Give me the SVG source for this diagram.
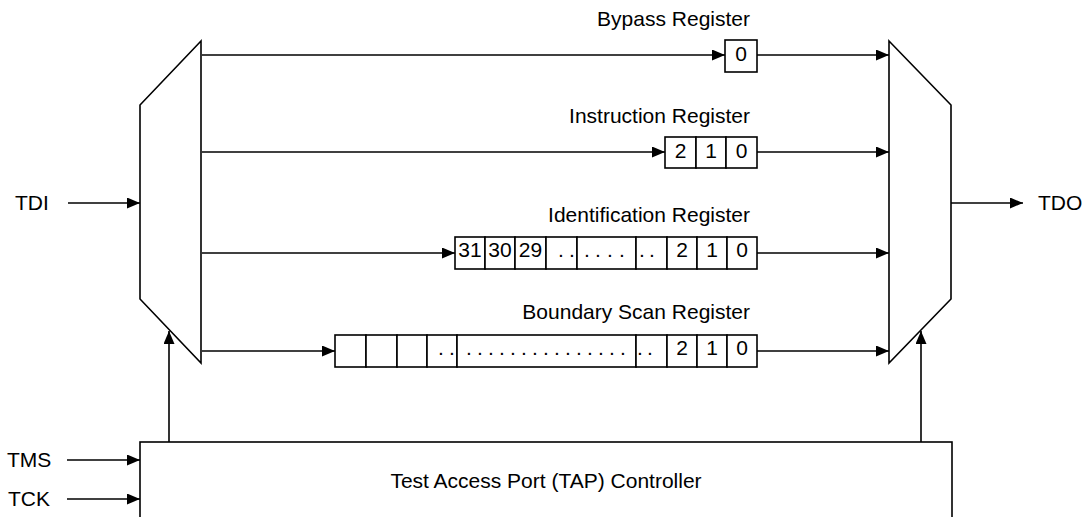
<svg xmlns="http://www.w3.org/2000/svg" width="1087" height="517" viewBox="0 0 1087 517">
<style>
.ln{stroke:#000;stroke-width:1.6;fill:none}
.bx{stroke:#000;stroke-width:1.6;fill:#fff}
.t{font-family:"Liberation Sans",Arial,sans-serif;font-size:21px;fill:#000}
.c{text-anchor:middle}
.e{text-anchor:end}
</style>
<defs>
<marker id="ah" markerUnits="userSpaceOnUse" markerWidth="13" markerHeight="11" refX="13" refY="5.5" orient="auto">
<path d="M0,0 L13,5.5 L0,11 z" fill="#000"/>
</marker>
</defs>
<g id="connectors">
<line class="ln" x1="68" y1="203" x2="140" y2="203" marker-end="url(#ah)"/>
<line class="ln" x1="67" y1="460" x2="140" y2="460" marker-end="url(#ah)"/>
<line class="ln" x1="67" y1="499" x2="140" y2="499" marker-end="url(#ah)"/>
<line class="ln" x1="202" y1="55" x2="725" y2="55" marker-end="url(#ah)"/>
<line class="ln" x1="202" y1="152" x2="665" y2="152" marker-end="url(#ah)"/>
<line class="ln" x1="202" y1="253" x2="455" y2="253" marker-end="url(#ah)"/>
<line class="ln" x1="202" y1="351" x2="335" y2="351" marker-end="url(#ah)"/>
<line class="ln" x1="757" y1="55" x2="889" y2="55" marker-end="url(#ah)"/>
<line class="ln" x1="757" y1="152" x2="889" y2="152" marker-end="url(#ah)"/>
<line class="ln" x1="757" y1="253" x2="889" y2="253" marker-end="url(#ah)"/>
<line class="ln" x1="757" y1="351" x2="889" y2="351" marker-end="url(#ah)"/>
<line class="ln" x1="951" y1="203" x2="1023" y2="203" marker-end="url(#ah)"/>
<line class="ln" x1="169" y1="442" x2="169" y2="331" marker-end="url(#ah)"/>
<line class="ln" x1="921" y1="442" x2="921" y2="331" marker-end="url(#ah)"/>
</g>
<g id="labels-io">
<text class="t" x="15" y="210">TDI</text>
<text class="t" x="1038" y="210">TDO</text>
<text class="t" x="7" y="467">TMS</text>
<text class="t" x="8" y="506">TCK</text>
</g>
<g id="mux-in">
<path class="ln" d="M201,41 L140,105 L140,299 L201,363 Z"/>
</g>
<g id="mux-out">
<path class="ln" d="M889,41 L951,105 L951,299 L889,363 Z"/>
</g>
<g id="tap">
<rect class="bx" x="140" y="442" width="812" height="90"/>
<text class="t c" x="546" y="488">Test Access Port (TAP) Controller</text>
</g>
<g id="bypass">
<text class="t e" x="750" y="26">Bypass Register</text>
<rect class="bx" x="725" y="40" width="32" height="32"/>
<text class="t c" x="741" y="61">0</text>
</g>
<g id="instruction">
<text class="t e" x="750" y="123">Instruction Register</text>
<rect class="bx" x="665" y="137" width="31" height="31"/>
<rect class="bx" x="696" y="137" width="30" height="31"/>
<rect class="bx" x="726" y="137" width="31" height="31"/>
<text class="t c" x="680.5" y="158">2</text>
<text class="t c" x="711" y="158">1</text>
<text class="t c" x="741.5" y="158">0</text>
</g>
<g id="identification">
<text class="t e" x="750" y="222">Identification Register</text>
<rect class="bx" x="455" y="237" width="30" height="32"/>
<rect class="bx" x="485" y="237" width="30" height="32"/>
<rect class="bx" x="515" y="237" width="31" height="32"/>
<rect class="bx" x="546" y="237" width="31" height="32"/>
<rect class="bx" x="577" y="237" width="59" height="32"/>
<rect class="bx" x="636" y="237" width="31" height="32"/>
<rect class="bx" x="667" y="237" width="30" height="32"/>
<rect class="bx" x="697" y="237" width="30" height="32"/>
<rect class="bx" x="727" y="237" width="30" height="32"/>
<text class="t c" x="470" y="257">31</text>
<text class="t c" x="500" y="257">30</text>
<text class="t c" x="530.5" y="257">29</text>
<text class="t" x="558 569" y="257">..</text>
<text class="t" x="584 595 607 619" y="257">....</text>
<text class="t" x="639 649" y="257">..</text>
<text class="t c" x="682" y="257">2</text>
<text class="t c" x="712" y="257">1</text>
<text class="t c" x="742" y="257">0</text>
</g>
<g id="boundary">
<text class="t e" x="750" y="319">Boundary Scan Register</text>
<rect class="bx" x="335" y="335" width="31" height="32"/>
<rect class="bx" x="366" y="335" width="31" height="32"/>
<rect class="bx" x="397" y="335" width="30" height="32"/>
<rect class="bx" x="427" y="335" width="30" height="32"/>
<rect class="bx" x="457" y="335" width="179" height="32"/>
<rect class="bx" x="636" y="335" width="31" height="32"/>
<rect class="bx" x="667" y="335" width="30" height="32"/>
<rect class="bx" x="697" y="335" width="30" height="32"/>
<rect class="bx" x="727" y="335" width="30" height="32"/>
<text class="t" x="438 449" y="355">..</text>
<text class="t" x="466 477 488 499 510 521 532 543 554 565 576 587 598 609 620" y="355">...............</text>
<text class="t" x="637 647" y="355">..</text>
<text class="t c" x="682" y="355">2</text>
<text class="t c" x="712" y="355">1</text>
<text class="t c" x="742" y="355">0</text>
</g>
</svg>
